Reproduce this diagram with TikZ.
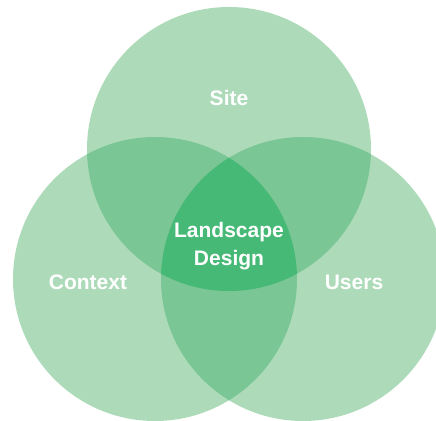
\documentclass[tikz,border=0pt]{standalone}
\usepackage{fontspec}
\setmainfont{Liberation Sans}
\usetikzlibrary{positioning}
\definecolor{venlight}{HTML}{ADDBB9}
\definecolor{venmid}{HTML}{7AC694}
\definecolor{vendark}{HTML}{45B975}

\begin{document}
\begin{tikzpicture}[x=1pt, y=1pt,
        label/.style={text=white, font=\fontsize{21}{28}\selectfont\bfseries, align=center}]
      \useasboundingbox (0,0) rectangle (436,420);
      \clip (0,0) rectangle (436,420);
      % Centres
      \coordinate (csite) at (229,271);
      \coordinate (ccontext) at (155,141);
      \coordinate (cusers) at (303,141);
      \def\rad{142}
      
      % Circles
      \fill[venlight] (csite) circle[radius=\rad];
      \fill[venlight] (ccontext) circle[radius=\rad];
      \fill[venlight] (cusers) circle[radius=\rad];
      
      % Pairwise overlaps
      \begin{scope}
        \clip (csite) circle[radius=\rad];
        \fill[venmid] (ccontext) circle[radius=\rad];
        \fill[venmid] (cusers) circle[radius=\rad];
      \end{scope}
      \begin{scope}
        \clip (ccontext) circle[radius=\rad];
        \fill[venmid] (cusers) circle[radius=\rad];
      \end{scope}
      
      % Centre overlap
      \begin{scope}
        \clip (csite) circle[radius=\rad];
        \clip (ccontext) circle[radius=\rad];
        \fill[vendark] (cusers) circle[radius=\rad];
      \end{scope}
      
      % Labels
      \node[label] (site) at (229,322) {Site};
      \node[label] (context) at (88,138) {Context};
      \node[label] (users) at (354,138) {Users};
      \node[label] (design) at (229,174) {Landscape\\Design};
    \end{tikzpicture}
\end{document}
